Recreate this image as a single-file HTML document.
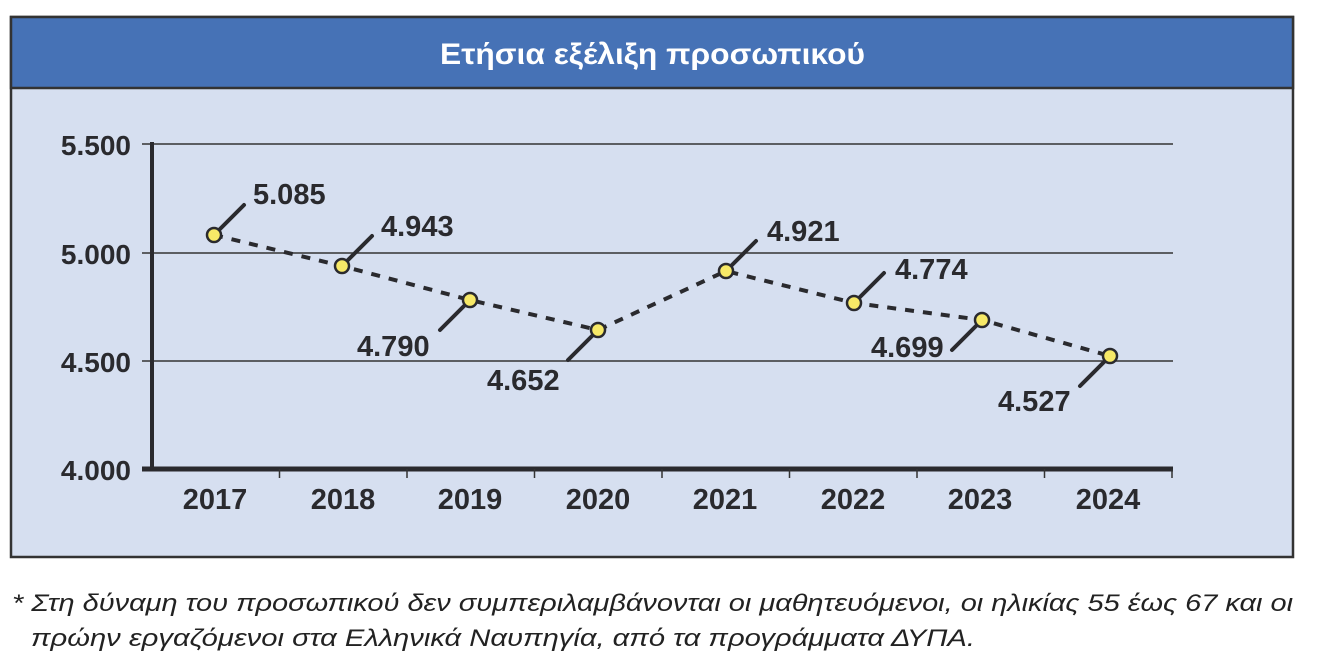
<!DOCTYPE html>
<html><head><meta charset="utf-8"><style>
body{margin:0;background:#fff;width:1320px;height:660px;overflow:hidden;font-family:"Liberation Sans",Arial,sans-serif}
</style></head><body>
<svg width="1320" height="660" xmlns="http://www.w3.org/2000/svg" font-family="Liberation Sans, Arial, sans-serif">
<rect x="11" y="17" width="1282" height="540" fill="#d6dff0" stroke="#333" stroke-width="2.5"/>
<rect x="11" y="17" width="1282" height="71" fill="#4672b6" stroke="#333" stroke-width="2.5"/>
<text x="440" y="64" fill="#fff" font-weight="bold" font-size="30" textLength="425" lengthAdjust="spacingAndGlyphs">Ετήσια εξέλιξη προσωπικού</text>
<g stroke="#333" stroke-width="1.5">
<line x1="142" y1="144" x2="1173" y2="144"/>
<line x1="142" y1="253" x2="1173" y2="253"/>
<line x1="142" y1="361" x2="1173" y2="361"/>
</g>
<line x1="152" y1="142" x2="152" y2="471" stroke="#2a2a2e" stroke-width="4"/>
<line x1="142" y1="469" x2="1173" y2="469" stroke="#2a2a2e" stroke-width="5"/>
<g stroke="#333" stroke-width="1.5">
<line x1="279.5" y1="469" x2="279.5" y2="478"/><line x1="407" y1="469" x2="407" y2="478"/>
<line x1="534.5" y1="469" x2="534.5" y2="478"/><line x1="662" y1="469" x2="662" y2="478"/>
<line x1="789.5" y1="469" x2="789.5" y2="478"/><line x1="917" y1="469" x2="917" y2="478"/>
<line x1="1044.5" y1="469" x2="1044.5" y2="478"/><line x1="1172" y1="469" x2="1172" y2="478"/>
</g>
<g font-weight="bold" font-size="28" fill="#2a2a2e" text-anchor="end">
<text x="131" y="155">5.500</text><text x="131" y="264">5.000</text>
<text x="131" y="372">4.500</text><text x="131" y="480">4.000</text>
</g>
<g font-weight="bold" font-size="29" fill="#2a2a2e" text-anchor="middle">
<text x="215" y="509">2017</text><text x="343" y="509">2018</text><text x="470" y="509">2019</text>
<text x="598" y="509">2020</text><text x="725" y="509">2021</text><text x="853" y="509">2022</text>
<text x="980" y="509">2023</text><text x="1108" y="509">2024</text>
</g>
<polyline points="214,235 342,266 470,300 598,330 726,271 854,303 982,320 1110,356" fill="none" stroke="#2a2a2e" stroke-width="4" stroke-dasharray="9,9"/>
<g stroke="#2a2a2e" stroke-width="4" stroke-linecap="round">
<line x1="214" y1="235" x2="244" y2="205"/><line x1="342" y1="266" x2="372" y2="236"/>
<line x1="470" y1="300" x2="440" y2="330"/><line x1="598" y1="330" x2="568" y2="360"/>
<line x1="726" y1="271" x2="756" y2="241"/><line x1="854" y1="303" x2="884" y2="273"/>
<line x1="982" y1="320" x2="952" y2="350"/><line x1="1110" y1="356" x2="1080" y2="386"/>
</g>
<g fill="#f7e967" stroke="#2a2a2e" stroke-width="2.5">
<circle cx="214" cy="235" r="7"/><circle cx="342" cy="266" r="7"/><circle cx="470" cy="300" r="7"/>
<circle cx="598" cy="330" r="7"/><circle cx="726" cy="271" r="7"/><circle cx="854" cy="303" r="7"/>
<circle cx="982" cy="320" r="7"/><circle cx="1110" cy="356" r="7"/>
</g>
<g font-weight="bold" font-size="29" fill="#2a2a2e">
<text x="253" y="204">5.085</text><text x="381" y="236">4.943</text>
<text x="357" y="356">4.790</text><text x="487" y="390">4.652</text>
<text x="767" y="241">4.921</text><text x="895" y="279">4.774</text>
<text x="871" y="357">4.699</text><text x="998" y="411">4.527</text>
</g>
<g font-style="italic" font-size="24" fill="#222">
<text x="12" y="611" textLength="1281" lengthAdjust="spacingAndGlyphs">* Στη δύναμη του προσωπικού δεν συμπεριλαμβάνονται οι μαθητευόμενοι, οι ηλικίας 55 έως 67 και οι</text>
<text x="31" y="646" textLength="944" lengthAdjust="spacingAndGlyphs">πρώην εργαζόμενοι στα Ελληνικά Ναυπηγία, από τα προγράμματα ΔΥΠΑ.</text>
</g>
</svg>
</body></html>
